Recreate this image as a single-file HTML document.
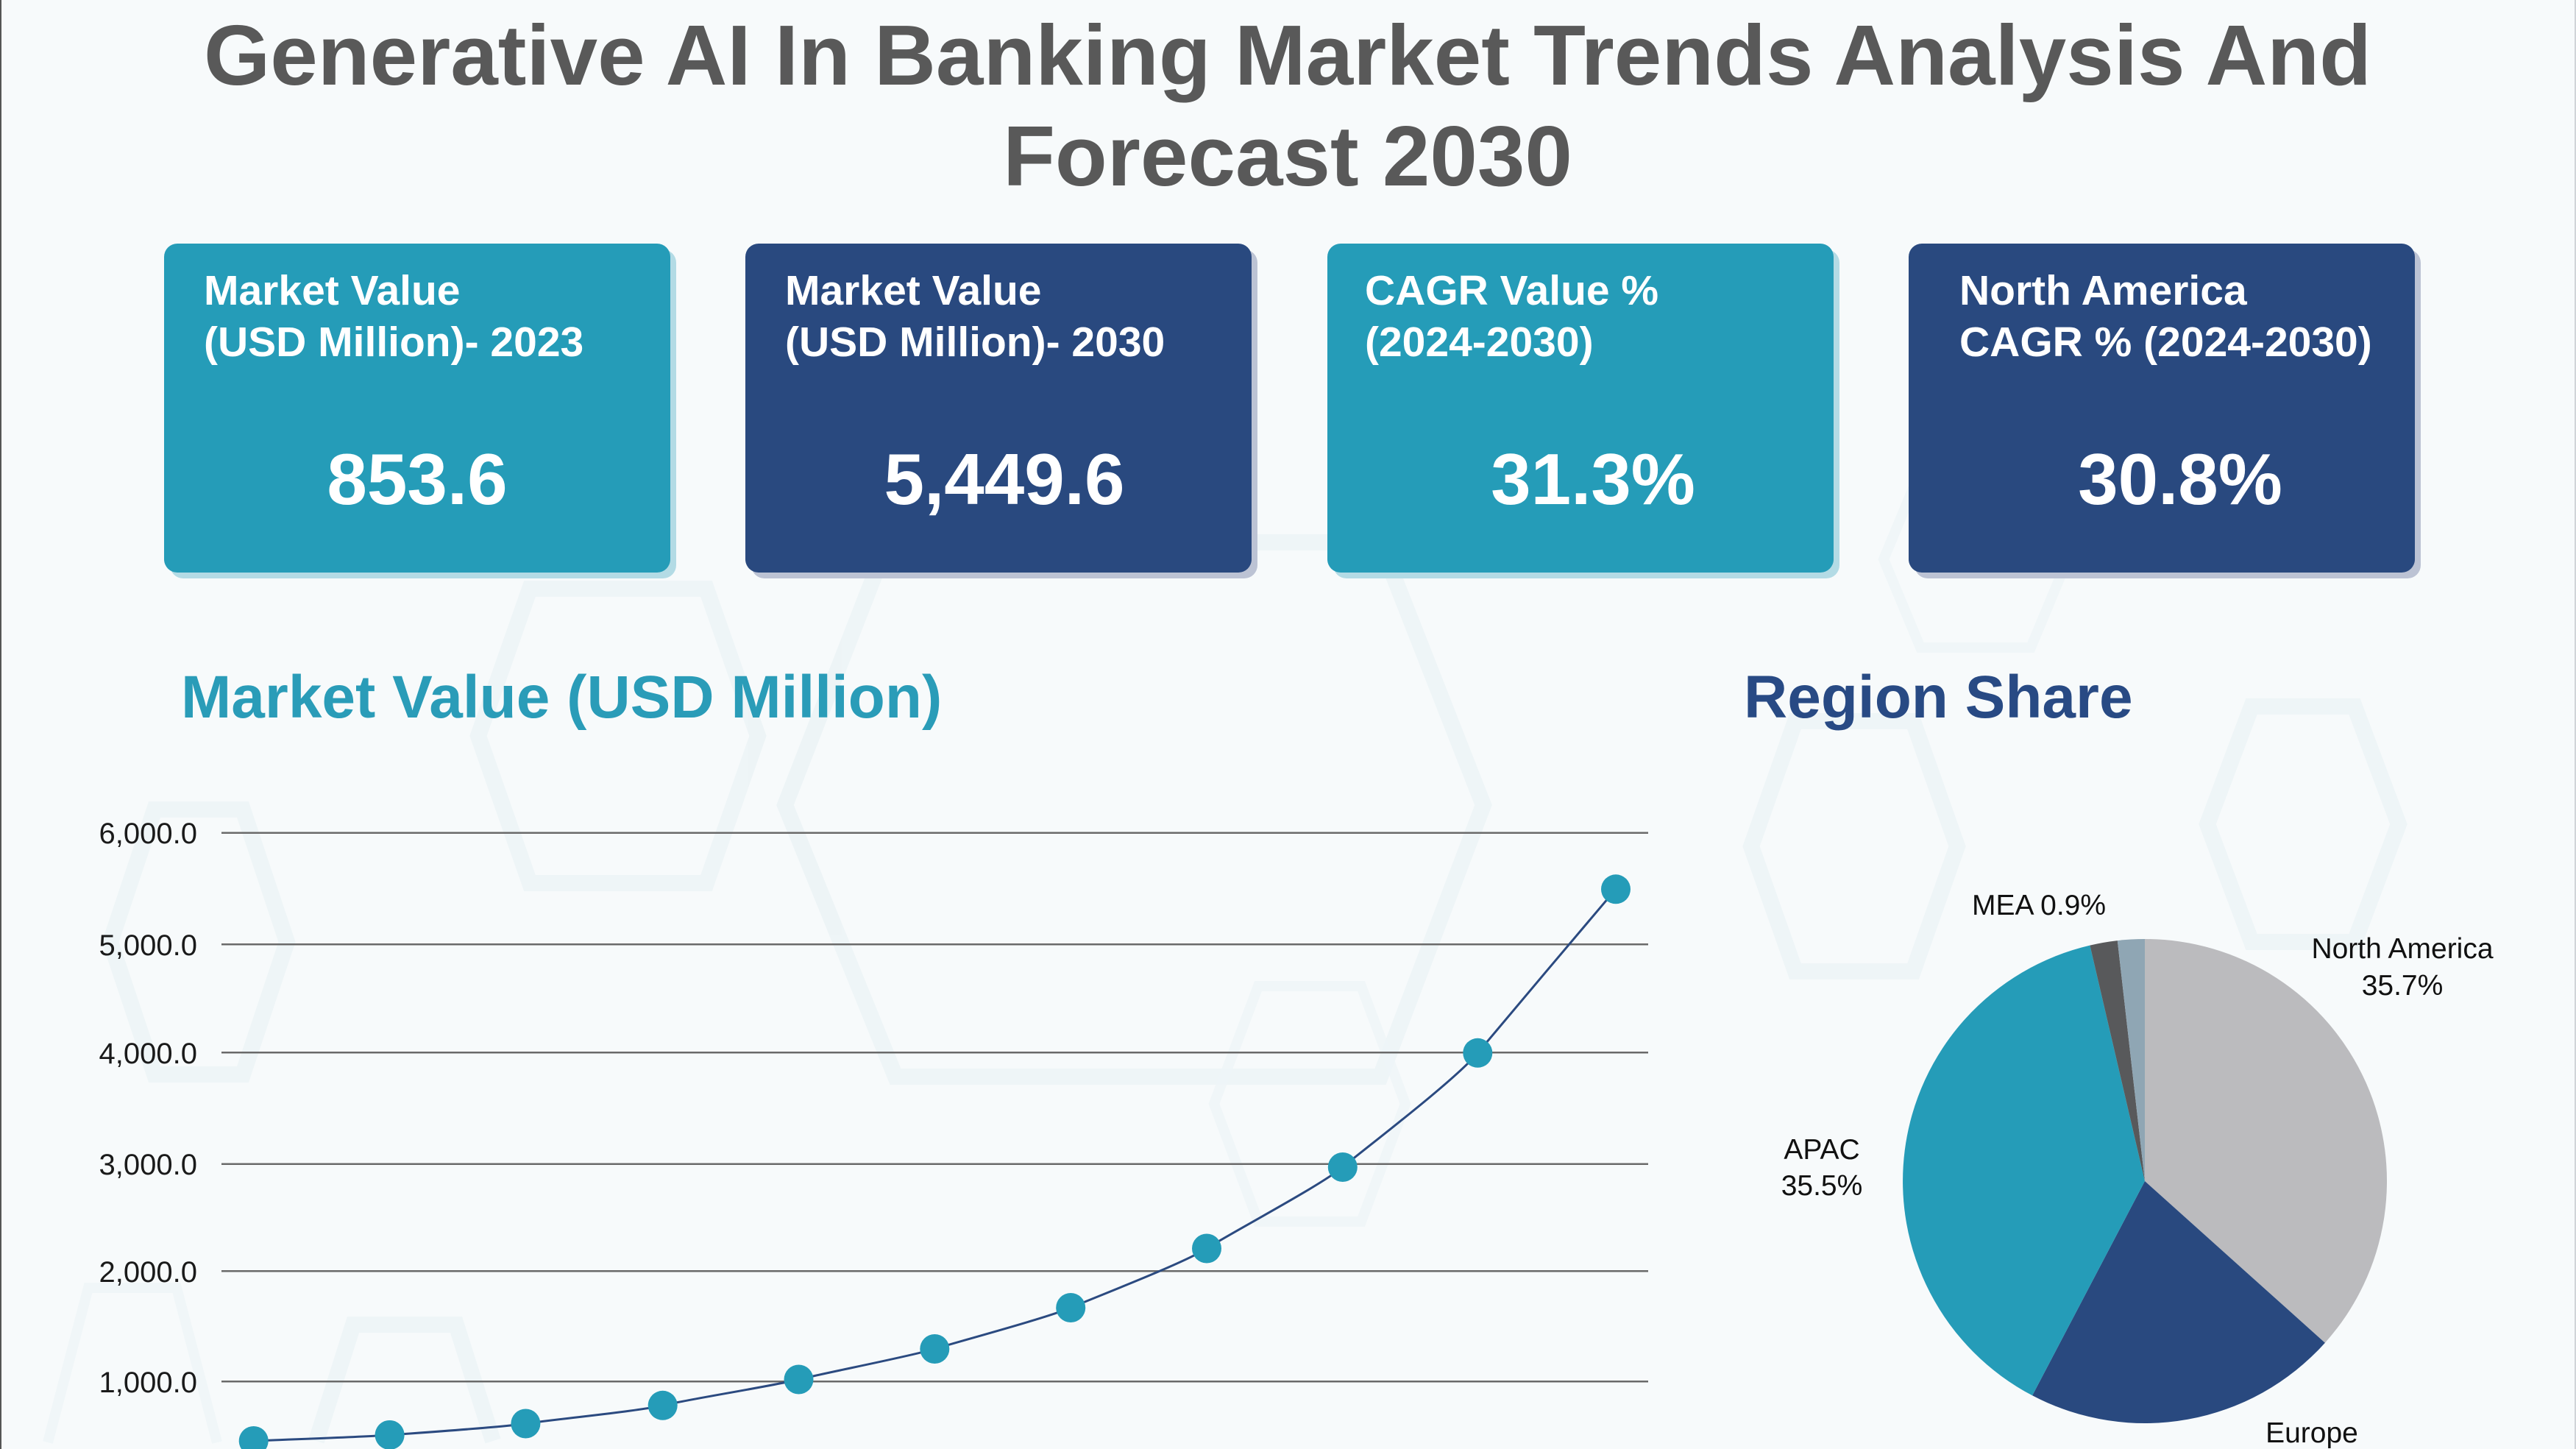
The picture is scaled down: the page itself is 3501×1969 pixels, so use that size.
<!DOCTYPE html>
<html>
<head>
<meta charset="utf-8">
<style>
  html,body{margin:0;padding:0;background:#f7fafb;width:3501px;height:1969px;overflow:hidden;}
  svg{display:block;}
  text{font-family:"Liberation Sans",Arial,Helvetica,sans-serif;}
</style>
</head>
<body>
<svg width="3501" height="1969" viewBox="0 0 3501 1969" xmlns="http://www.w3.org/2000/svg">
  <rect x="0" y="0" width="3501" height="1969" fill="#f7fafb"/>

  <!-- faint background hexagons -->
  <g fill="none" stroke="#e9f2f5" stroke-width="22" opacity="0.7">
    <polygon points="1067,1094 1206,737 1876,737 2016,1094 1876,1463 1217,1463"/>
    <polygon points="650,1000 720,800 960,800 1030,1000 960,1200 720,1200"/>
    <polygon points="150,1280 210,1100 330,1100 390,1280 330,1460 210,1460"/>
    <polyline points="430,1958 480,1800 620,1800 670,1958"/>
    <polygon points="2380,1150 2440,980 2600,980 2660,1150 2600,1320 2440,1320"/>
    <polygon points="3000,1120 3060,960 3200,960 3260,1120 3200,1280 3060,1280"/>
  </g>
  <g fill="none" stroke="#eef5f7" stroke-width="14" opacity="0.8">
    <polygon points="1650,1500 1710,1340 1850,1340 1910,1500 1850,1660 1710,1660"/>
    <polyline points="65,1960 120,1750 240,1750 295,1960"/>
    <polygon points="2560,760 2610,640 2760,640 2810,760 2760,880 2610,880"/>
  </g>

  <!-- border lines -->
  <rect x="0" y="0" width="2" height="1969" fill="#555"/>
  <rect x="3499" y="0" width="2" height="1969" fill="#d0d4d8"/>

  <!-- Title -->
  <text x="1750" y="115" text-anchor="middle" font-size="116" font-weight="bold" fill="#595959">Generative AI In Banking Market Trends Analysis And</text>
  <text x="1750" y="252" text-anchor="middle" font-size="116" font-weight="bold" fill="#595959">Forecast 2030</text>

  <!-- Cards shadows -->
  <rect x="231" y="339" width="688" height="447" rx="18" fill="#b3dbe5"/>
  <rect x="1021" y="339" width="688" height="447" rx="18" fill="#bcc3d4"/>
  <rect x="1812" y="339" width="688" height="447" rx="18" fill="#b3dbe5"/>
  <rect x="2602" y="339" width="688" height="447" rx="18" fill="#bcc3d4"/>
  <!-- Cards -->
  <rect x="223" y="331" width="688" height="447" rx="18" fill="#259cb8"/>
  <rect x="1013" y="331" width="688" height="447" rx="18" fill="#29497f"/>
  <rect x="1804" y="331" width="688" height="447" rx="18" fill="#259cb8"/>
  <rect x="2594" y="331" width="688" height="447" rx="18" fill="#29497f"/>

  <g font-size="57" font-weight="bold" fill="#ffffff">
    <text x="277" y="414">Market Value</text>
    <text x="277" y="484">(USD Million)- 2023</text>
    <text x="1067" y="414">Market Value</text>
    <text x="1067" y="484">(USD Million)- 2030</text>
    <text x="1855" y="414">CAGR Value %</text>
    <text x="1855" y="484">(2024-2030)</text>
    <text x="2663" y="414">North America</text>
    <text x="2663" y="484">CAGR % (2024-2030)</text>
  </g>
  <g font-size="98" font-weight="bold" fill="#ffffff" text-anchor="middle">
    <text x="567" y="685">853.6</text>
    <text x="1365" y="685">5,449.6</text>
    <text x="2165" y="685">31.3%</text>
    <text x="2963" y="685">30.8%</text>
  </g>

  <!-- Section titles -->
  <text x="246" y="975" font-size="82" font-weight="bold" fill="#2a9cb8">Market Value (USD Million)</text>
  <text x="2370" y="975" font-size="82" font-weight="bold" fill="#284a84">Region Share</text>

  <!-- Line chart gridlines -->
  <g stroke="#6a6a6a" stroke-width="2.5">
    <line x1="301" y1="1131.7" x2="2240" y2="1131.7"/>
    <line x1="301" y1="1283.3" x2="2240" y2="1283.3"/>
    <line x1="301" y1="1430.2" x2="2240" y2="1430.2"/>
    <line x1="301" y1="1581.8" x2="2240" y2="1581.8"/>
    <line x1="301" y1="1727.2" x2="2240" y2="1727.2"/>
    <line x1="301" y1="1877.3" x2="2240" y2="1877.3"/>
  </g>
  <g font-size="40" fill="#1a1a1a" text-anchor="end">
    <text x="268" y="1146">6,000.0</text>
    <text x="268" y="1298">5,000.0</text>
    <text x="268" y="1445">4,000.0</text>
    <text x="268" y="1596">3,000.0</text>
    <text x="268" y="1742">2,000.0</text>
    <text x="268" y="1892">1,000.0</text>
  </g>

  <!-- Line series (smoothed) -->
  <path fill="none" stroke="#2b4a80" stroke-width="3"
    d="M344.7,1958 C375.5,1956.7 498.8,1952.4 529.6,1950 C560.4,1947.6 683.3,1939.5 714.4,1934.5 C745.5,1929.5 869.6,1917.4 900.7,1909.8 C931.8,1902.2 1054.7,1882.5 1085.5,1874.5 C1116.3,1866.5 1239.5,1842.6 1270.3,1833 C1301.1,1823.4 1424.4,1790.4 1455.2,1777 C1486,1763.6 1609.2,1716.5 1640,1696.5 C1670.8,1676.5 1794,1611.6 1824.8,1586 C1855.6,1560.4 1977.7,1467.8 2008.3,1430.8 C2038.9,1393.8 2164.7,1245.4 2196,1208.3"/>
  <g fill="#259cb8">
    <path d="M328,1969 A20,20 0 1 1 361.4,1969 Z"/>
    <path d="M523.4,1969 A20,20 0 1 1 535.8,1969 Z"/>
    <circle cx="714.4" cy="1934.5" r="20"/>
    <circle cx="900.7" cy="1909.8" r="20"/>
    <circle cx="1085.5" cy="1874.5" r="20"/>
    <circle cx="1270.3" cy="1833" r="20"/>
    <circle cx="1455.2" cy="1777" r="20"/>
    <circle cx="1640" cy="1696.5" r="20"/>
    <circle cx="1824.8" cy="1586" r="20"/>
    <circle cx="2008.3" cy="1430.8" r="20"/>
    <circle cx="2196" cy="1208.3" r="20"/>
  </g>

  <!-- Pie -->
  <path d="M2915,1605 L2915,1276 A329,329 0 0 1 3159.9,1824.7 Z" fill="#bbbbbe"/>
  <path d="M2915,1605 L3159.9,1824.7 A329,329 0 0 1 2762.1,1896.3 Z" fill="#29497f"/>
  <path d="M2915,1605 L2762.1,1896.3 A329,329 0 0 1 2840.4,1284.6 Z" fill="#259cb8"/>
  <path d="M2915,1605 L2840.4,1284.6 A329,329 0 0 1 2877.8,1278.1 Z" fill="#58595b"/>
  <path d="M2915,1605 L2877.8,1278.1 A329,329 0 0 1 2915,1276 Z" fill="#8fa6b4"/>

  <g font-size="39" fill="#111111" text-anchor="middle">
    <text x="2771" y="1243">MEA 0.9%</text>
    <text x="3265" y="1302">North America</text>
    <text x="3265" y="1352">35.7%</text>
    <text x="2476" y="1575">APAC</text>
    <text x="2476" y="1624">35.5%</text>
    <text x="3142" y="1960">Europe</text>
  </g>
</svg>
</body>
</html>
